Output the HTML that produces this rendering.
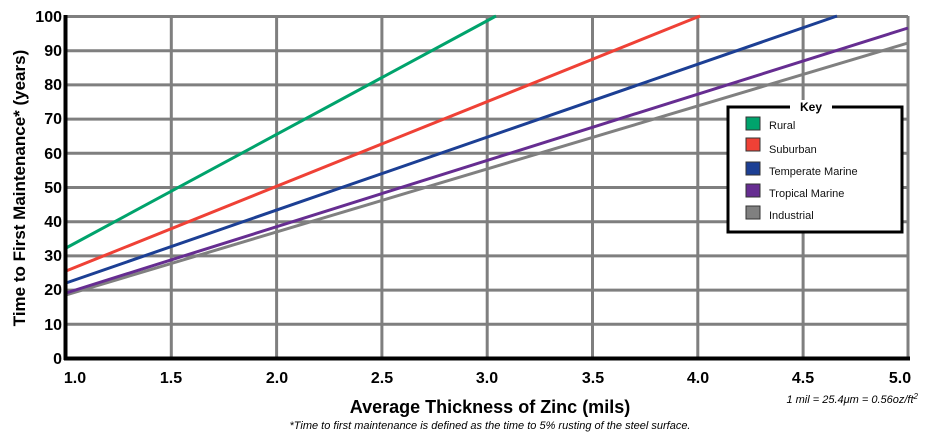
<!DOCTYPE html>
<html><head><style>
body{margin:0;background:#fff;}
svg text{font-family:"Liberation Sans",Arial,sans-serif;}
</style></head><body>
<svg width="926" height="441" viewBox="0 0 926 441" xmlns="http://www.w3.org/2000/svg">
<rect width="926" height="441" fill="#fff"/>
<g stroke="#7f7f7f" stroke-width="3">
<line x1="66" y1="16.5" x2="908" y2="16.5"/>
<line x1="66" y1="50.7" x2="908" y2="50.7"/>
<line x1="66" y1="84.9" x2="908" y2="84.9"/>
<line x1="66" y1="119.1" x2="908" y2="119.1"/>
<line x1="66" y1="153.3" x2="908" y2="153.3"/>
<line x1="66" y1="187.5" x2="908" y2="187.5"/>
<line x1="66" y1="221.7" x2="908" y2="221.7"/>
<line x1="66" y1="255.9" x2="908" y2="255.9"/>
<line x1="66" y1="290.1" x2="908" y2="290.1"/>
<line x1="66" y1="324.3" x2="908" y2="324.3"/>
<line x1="171.3" y1="16" x2="171.3" y2="358"/>
<line x1="276.6" y1="16" x2="276.6" y2="358"/>
<line x1="381.9" y1="16" x2="381.9" y2="358"/>
<line x1="487.2" y1="16" x2="487.2" y2="358"/>
<line x1="592.5" y1="16" x2="592.5" y2="358"/>
<line x1="697.8" y1="16" x2="697.8" y2="358"/>
<line x1="803.1" y1="16" x2="803.1" y2="358"/>
<line x1="908" y1="16" x2="908" y2="358"/>
</g>
<g stroke-width="3" fill="none">
<line x1="66" y1="295" x2="908" y2="43" stroke="#808080"/>
<line x1="66" y1="293" x2="908" y2="28" stroke="#662d91"/>
<line x1="66" y1="283" x2="837" y2="16" stroke="#1c3f94"/>
<line x1="66" y1="271" x2="700" y2="16" stroke="#ef4136"/>
<line x1="66" y1="248" x2="496" y2="16" stroke="#00a36c"/>
</g>
<line x1="65.5" y1="15" x2="65.5" y2="360" stroke="#000" stroke-width="4"/>
<line x1="64" y1="358.5" x2="910" y2="358.5" stroke="#000" stroke-width="4"/>
<g font-size="16" font-weight="bold" text-anchor="end" fill="#000">
<text x="62" y="22">100</text><text x="62" y="56">90</text><text x="62" y="90">80</text>
<text x="62" y="124">70</text><text x="62" y="159">60</text><text x="62" y="193">50</text>
<text x="62" y="227">40</text><text x="62" y="261">30</text><text x="62" y="295">20</text>
<text x="62" y="330">10</text><text x="62" y="364">0</text>
</g>
<g font-size="16" font-weight="bold" text-anchor="middle" fill="#000">
<text x="75" y="383">1.0</text><text x="171" y="383">1.5</text><text x="277" y="383">2.0</text>
<text x="382" y="383">2.5</text><text x="487" y="383">3.0</text><text x="593" y="383">3.5</text>
<text x="698" y="383">4.0</text><text x="803" y="383">4.5</text><text x="900" y="383">5.0</text>
</g>
<text x="490" y="413" font-size="18" font-weight="bold" text-anchor="middle">Average Thickness of Zinc (mils)</text>
<text x="490" y="429" font-size="11" font-style="italic" text-anchor="middle">*Time to first maintenance is defined as the time to 5% rusting of the steel surface.</text>
<text x="918" y="403" font-size="11" font-style="italic" text-anchor="end">1 mil = 25.4μm = 0.56oz/ft<tspan dy="-4" font-size="8">2</tspan></text>
<text transform="translate(25,188) rotate(-90)" font-size="17" font-weight="bold" text-anchor="middle">Time to First Maintenance* (years)</text>
<rect x="728" y="107" width="174" height="125" fill="#fff" stroke="#000" stroke-width="3"/>
<rect x="790" y="100" width="42" height="14" fill="#fff"/>
<text x="811" y="111" font-size="12" font-weight="bold" text-anchor="middle" font-family="Liberation Serif,serif">Key</text>
<g stroke="#333" stroke-width="1">
<rect x="746" y="117" width="14" height="13" fill="#00a36c"/>
<rect x="746" y="138" width="14" height="13" fill="#ef4136"/>
<rect x="746" y="162" width="14" height="13" fill="#1c3f94"/>
<rect x="746" y="184" width="14" height="13" fill="#662d91"/>
<rect x="746" y="206" width="14" height="13" fill="#808080"/>
</g>
<g font-size="11" fill="#111">
<text x="769" y="129">Rural</text>
<text x="769" y="153">Suburban</text>
<text x="769" y="175">Temperate Marine</text>
<text x="769" y="197">Tropical Marine</text>
<text x="769" y="219">Industrial</text>
</g>
</svg>
</body></html>
